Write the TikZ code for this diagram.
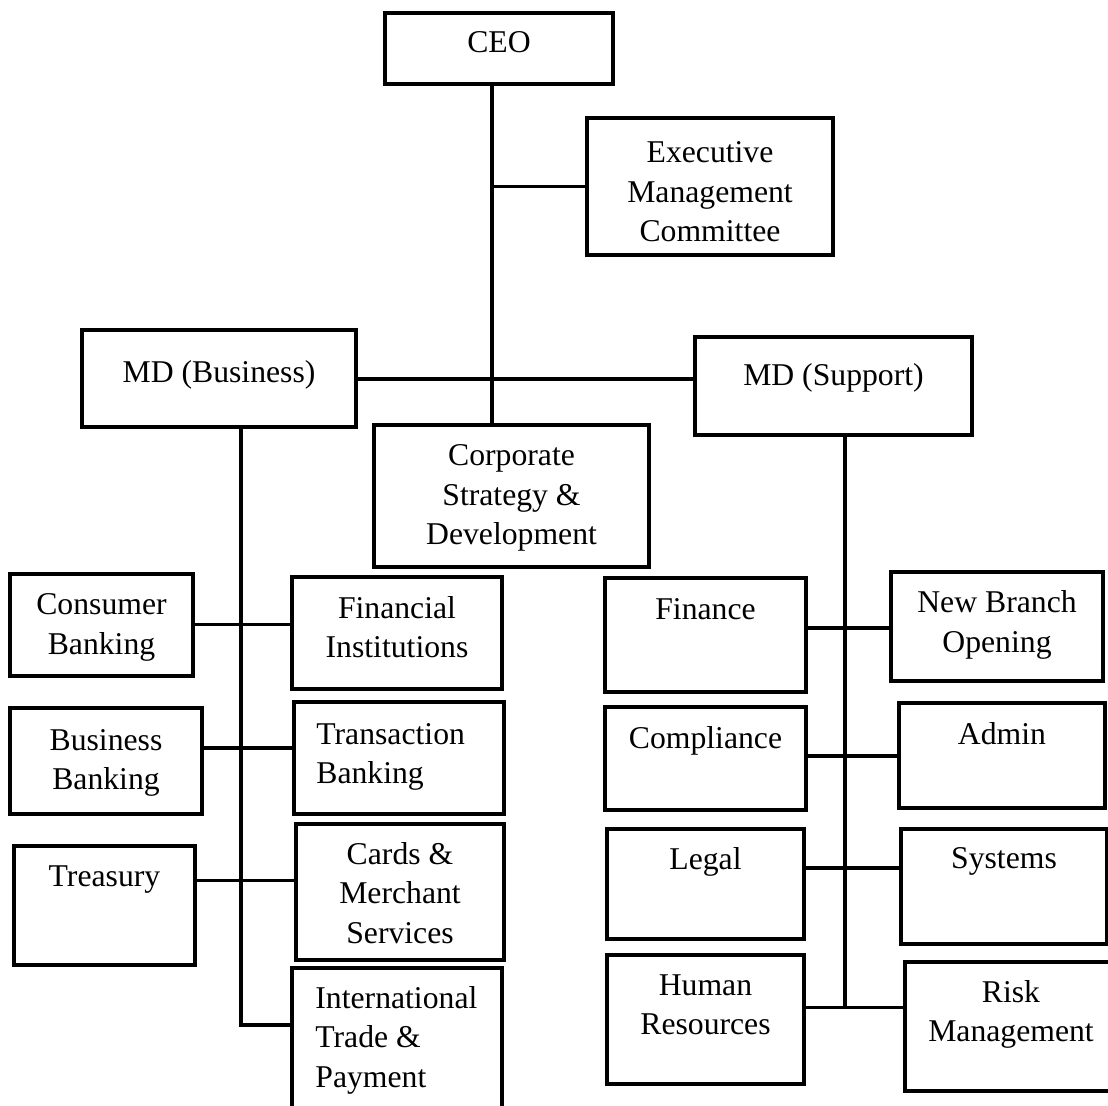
\documentclass[tikz,border=0pt]{standalone}
\usepackage{fontspec}
\setmainfont{Liberation Serif}

% box: name, left, top, right, bottom (pixel grid, y downwards)
\newcommand\orgbox[5]{%
  \node[orgbox, minimum width={(#4-#2)*0.5pt}, minimum height={(#5-#3)*0.5pt}]
    (#1) at ({(#2+#4)/2},{(#3+#5)/2}) {};}
% centred caption: name, centre x, first baseline y, lines
\newcommand\orgtitle[4]{%
  \node[orgtext, anchor=base] (#1) at (#2,#3) {\begin{tabular}[t]{@{}c@{}}#4\end{tabular}};}
% left-aligned caption: name, left x, first baseline y, lines
\newcommand\orgtitleleft[4]{%
  \node[orgtext, anchor=base west] (#1) at (#2,#3) {\begin{tabular}[t]{@{}l@{}}#4\end{tabular}};}

\begin{document}
\begin{tikzpicture}[x=0.5pt,y=-0.5pt,
  orgbox/.style={draw=black, line width=2pt, rectangle, inner sep=0pt, fill=white},
  orgtext/.style={inner sep=0pt, font=\fontsize{15.85pt}{19.75pt}\selectfont},
  link/.style={draw=black, line width=1.75pt}]

\useasboundingbox (0,0) rectangle (1108,1106);
\fill[white] (0,0) rectangle (1108,1106);
\clip (0,0) rectangle (1108,1106);

% ---- top level ----
\orgbox{ceo}{385}{13}{613}{84}
\orgbox{exec}{587}{118}{833}{255}
\orgbox{mdb}{82}{330}{356}{427}
\orgbox{mds}{695}{337}{972}{435}
\orgbox{corp}{374}{425}{649}{567}

% ---- business side ----
\orgbox{cons}{10}{574}{193}{676}
\orgbox{fin}{292}{577}{502}{689}
\orgbox{busb}{10}{708}{202}{814}
\orgbox{trans}{294}{702}{504}{814}
\orgbox{treas}{14}{846}{195}{965}
\orgbox{cards}{296}{824}{504}{960}
\orgbox{intl}{292}{968}{502}{1130}

% ---- support side ----
\orgbox{finance}{605}{578}{806}{692}
\orgbox{nbo}{891}{572}{1103}{681}
\orgbox{compl}{605}{707}{806}{810}
\orgbox{admin}{899}{703}{1105}{808}
\orgbox{legal}{607}{829}{804}{939}
\orgbox{sys}{901}{829}{1107}{944}
\orgbox{hr}{607}{955}{804}{1084}
\orgbox{risk}{905}{962}{1117}{1091}

% ---- captions ----
\orgtitle{ceo-t}{499}{53}{CEO}
\orgtitle{exec-t}{710}{163}{Executive\\Management\\Committee}
\orgtitle{mdb-t}{219}{383}{MD (Business)}
\orgtitle{mds-t}{833.5}{386}{MD (Support)}
\orgtitle{corp-t}{511.5}{466}{Corporate\\Strategy \&\\Development}

\orgtitle{cons-t}{101.5}{615}{Consumer\\Banking}
\orgtitle{fin-t}{397}{618}{Financial\\Institutions}
\orgtitle{busb-t}{106}{750}{Business\\Banking}
\orgtitleleft{trans-t}{316}{744}{Transaction\\Banking}
\orgtitle{treas-t}{104.5}{886}{Treasury}
\orgtitle{cards-t}{400}{864}{Cards \&\\Merchant\\Services}
\orgtitleleft{intl-t}{315}{1008}{International\\Trade \&\\Payment}

\orgtitle{finance-t}{705.5}{619}{Finance}
\orgtitle{nbo-t}{997}{612.5}{New Branch\\Opening}
\orgtitle{compl-t}{705.5}{748}{Compliance}
\orgtitle{admin-t}{1002}{744.5}{Admin}
\orgtitle{legal-t}{705.5}{869}{Legal}
\orgtitle{sys-t}{1004}{868}{Systems}
\orgtitle{hr-t}{705.5}{995}{Human\\Resources}
\orgtitle{risk-t}{1011}{1002}{Risk\\Management}

% ---- connector guides ----
\coordinate (ceotrunk) at (492,0);
\coordinate (mdrow) at (0,379);
\coordinate (bizend) at (241,1025);
\coordinate (suppend) at (845,1007.5);
\coordinate (brow1) at (0,624.5);
\coordinate (brow2) at (0,748);
\coordinate (brow3) at (0,880.5);
\coordinate (srow1) at (0,628);
\coordinate (srow2) at (0,756);
\coordinate (srow3) at (0,868);

% ---- connectors ----
\draw[link] ([yshift=1pt]ceo.south -| ceotrunk) -- (corp.north -| ceotrunk);
\draw[link] (ceotrunk |- exec.west) -- (exec.west);
\draw[link] (mdb.east |- mdrow) -- (mds.west |- mdrow);

\draw[link] (mdb.south -| bizend) -- (bizend) -- (intl.west |- bizend);
\draw[link] (cons.east |- brow1) -- (fin.west |- brow1);
\draw[link] (busb.east |- brow2) -- (trans.west |- brow2);
\draw[link] (treas.east |- brow3) -- (cards.west |- brow3);

\draw[link] (mds.south -| suppend) -- (suppend);
\draw[link] (finance.east |- srow1) -- (nbo.west |- srow1);
\draw[link] (compl.east |- srow2) -- (admin.west |- srow2);
\draw[link] (legal.east |- srow3) -- (sys.west |- srow3);
\draw[link] (hr.east |- suppend) -- (risk.west |- suppend);

\end{tikzpicture}
\end{document}
